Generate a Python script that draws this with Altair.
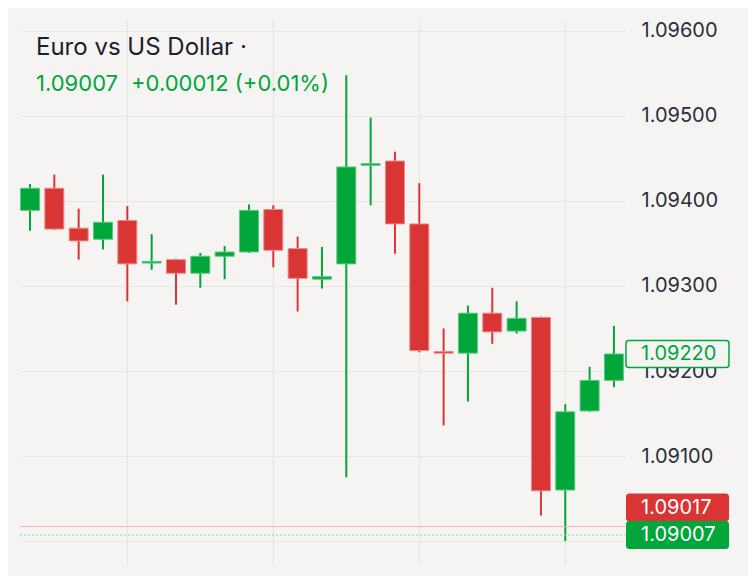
import altair as alt
import pandas as pd

# ---- data ----
opens = [1.09389, 1.09415, 1.09368, 1.09355, 1.09377, 1.09327, 1.09331, 1.09315, 1.09335, 1.09340,
         1.09390, 1.09344, 1.09308, 1.09326, 1.09442, 1.09447, 1.09373, 1.09223, 1.09221, 1.09268,
         1.09247, 1.09263, 1.09060, 1.09153, 1.09189]
highs = [1.09420, 1.09431, 1.09391, 1.09431, 1.09394, 1.09361, 1.09332, 1.09339, 1.09347, 1.09396,
         1.09395, 1.09358, 1.09346, 1.09548, 1.09498, 1.09458, 1.09421, 1.09250, 1.09277, 1.09298,
         1.09282, 1.09264, 1.09161, 1.09205, 1.09253]
lows = [1.09365, 1.09366, 1.09331, 1.09343, 1.09282, 1.09319, 1.09278, 1.09298, 1.09308, 1.09339,
        1.09322, 1.09270, 1.09297, 1.09075, 1.09395, 1.09338, 1.09222, 1.09136, 1.09164, 1.09232,
        1.09244, 1.09030, 1.09000, 1.09152, 1.09181]
closes = [1.09415, 1.09367, 1.09353, 1.09375, 1.09326, 1.09329, 1.09315, 1.09335, 1.09340, 1.09389,
          1.09342, 1.09309, 1.09311, 1.09440, 1.09444, 1.09373, 1.09224, 1.09221, 1.09268, 1.09246,
          1.09262, 1.09059, 1.09152, 1.09189, 1.09220]

y_ticks = [1.090, 1.091, 1.092, 1.093, 1.094, 1.095, 1.096]
x_grid_candles = [4, 10, 16, 22]

title_text = "Euro vs US Dollar ·"
sub_price_text = "1.09007"
sub_change_text = "+0.00012 (+0.01%)"

last_price = 1.09220
ask_price = 1.09017
bid_price = 1.09007

GREEN = "#00a63a"
RED = "#d93535"
BG = "#f5f4f2"
TEXT = "#1c202b"

W, H = 605, 545

df = pd.DataFrame({"i": list(range(len(opens))), "open": opens, "high": highs,
                   "low": lows, "close": closes})
df["dir"] = ["up" if c >= o else "down" for o, c in zip(opens, closes)]

color_scale = alt.Scale(domain=["up", "down"], range=[GREEN, RED])
stroke_scale = alt.Scale(domain=["up", "down"], range=["#5cc97f", "#ec8a8a"])

xs = alt.Scale(domain=[-0.411, 24.455], nice=False, zero=False, padding=0)
ys = alt.Scale(domain=[1.089718, 1.096129], nice=False, zero=False, padding=0)

x_enc = alt.X("i:Q", scale=xs, title=None,
              axis=alt.Axis(values=x_grid_candles, labels=False, ticks=False, domain=False,
                            grid=True, gridColor="#e6e4e1", gridWidth=1.2))

base = alt.Chart(df)

wicks = base.mark_rule(strokeWidth=2).encode(
    x=x_enc,
    y=alt.Y("low:Q", scale=ys, title=None,
            axis=alt.Axis(orient="right", values=y_ticks, format=".5f", ticks=False,
                          domain=False, grid=True, gridColor="#e8e6e3", gridWidth=1.2,
                          labelFont="Inter", labelFontSize=20, labelColor="#2a2e39",
                          labelAlign="left", labelBaseline="middle", labelPadding=16,
                          zindex=0)),
    y2="high:Q",
    color=alt.Color("dir:N", scale=color_scale, legend=None),
)

bodies = base.mark_bar(size=19, strokeWidth=1).encode(
    x=alt.X("i:Q", scale=xs),
    y=alt.Y("open:Q", scale=ys),
    y2="close:Q",
    color=alt.Color("dir:N", scale=color_scale, legend=None),
    stroke=alt.Stroke("dir:N", scale=stroke_scale, legend=None),
)

lines_df = pd.DataFrame({"price": [ask_price, bid_price], "kind": ["ask", "bid"]})
ask_line = alt.Chart(lines_df[lines_df.kind == "ask"]).mark_rule(
    color="#f0b4b4", strokeWidth=1).encode(
    y=alt.Y("price:Q", scale=ys), x=alt.value(0), x2=alt.value(W))
bid_line = alt.Chart(lines_df[lines_df.kind == "bid"]).mark_rule(
    color="#8fd6a0", strokeWidth=1, strokeDash=[2, 2]).encode(
    y=alt.Y("price:Q", scale=ys), x=alt.value(0), x2=alt.value(W))

badges_df = pd.DataFrame({
    "price": [last_price, ask_price, bid_price],
    "label": [f"{last_price:.5f}", f"{ask_price:.5f}", f"{bid_price:.5f}"],
})

badge_last = alt.Chart(badges_df.iloc[[0]]).mark_rect(
    height=27, fill=BG, stroke=GREEN, strokeWidth=1.5, cornerRadius=3).encode(
    y=alt.Y("price:Q", scale=ys), x=alt.value(606), x2=alt.value(709))
badge_ask = alt.Chart(badges_df.iloc[[1]]).mark_rect(
    height=28, fill=RED, cornerRadius=3, yOffset=-19).encode(
    y=alt.Y("price:Q", scale=ys), x=alt.value(606), x2=alt.value(709))
badge_bid = alt.Chart(badges_df.iloc[[2]]).mark_rect(
    height=28, fill=GREEN, cornerRadius=3).encode(
    y=alt.Y("price:Q", scale=ys), x=alt.value(606), x2=alt.value(709))

txt_last = alt.Chart(badges_df.iloc[[0]]).mark_text(
    align="left", baseline="middle", font="Inter", fontSize=20, color=GREEN).encode(
    y=alt.Y("price:Q", scale=ys), x=alt.value(621), text="label:N")
txt_ask = alt.Chart(badges_df.iloc[[1]]).mark_text(
    align="left", baseline="middle", font="Inter", fontSize=20, color="white", yOffset=-19).encode(
    y=alt.Y("price:Q", scale=ys), x=alt.value(621), text="label:N")
txt_bid = alt.Chart(badges_df.iloc[[2]]).mark_text(
    align="left", baseline="middle", font="Inter", fontSize=20, color="white").encode(
    y=alt.Y("price:Q", scale=ys), x=alt.value(621), text="label:N")

head_df = pd.DataFrame({"t": [title_text], "p": [sub_price_text], "c": [sub_change_text]})
title_mark = alt.Chart(head_df).mark_text(
    align="left", baseline="alphabetic", font="Inter", fontSize=24, color=TEXT).encode(
    x=alt.value(16), y=alt.value(35), text="t:N")
sub_price_mark = alt.Chart(head_df).mark_text(
    align="left", baseline="alphabetic", font="Inter", fontSize=22, color=GREEN).encode(
    x=alt.value(16), y=alt.value(70.5), text="p:N")
sub_change_mark = alt.Chart(head_df).mark_text(
    align="left", baseline="alphabetic", font="Inter", fontSize=22, color=GREEN).encode(
    x=alt.value(111), y=alt.value(70.5), text="c:N")

chart = alt.layer(
    wicks, bodies, ask_line, bid_line,
    badge_last, badge_ask, badge_bid, txt_last, txt_ask, txt_bid,
    title_mark, sub_price_mark, sub_change_mark,
).resolve_scale(color="shared").properties(
    width=W, height=H,
    autosize=alt.AutoSizeParams(type="none"),
    padding={"left": 12, "top": 12, "right": 123, "bottom": 11},
    background=BG,
).configure_view(stroke=None)

chart.save("out.html", embed_options={"renderer": "svg", "actions": False})
